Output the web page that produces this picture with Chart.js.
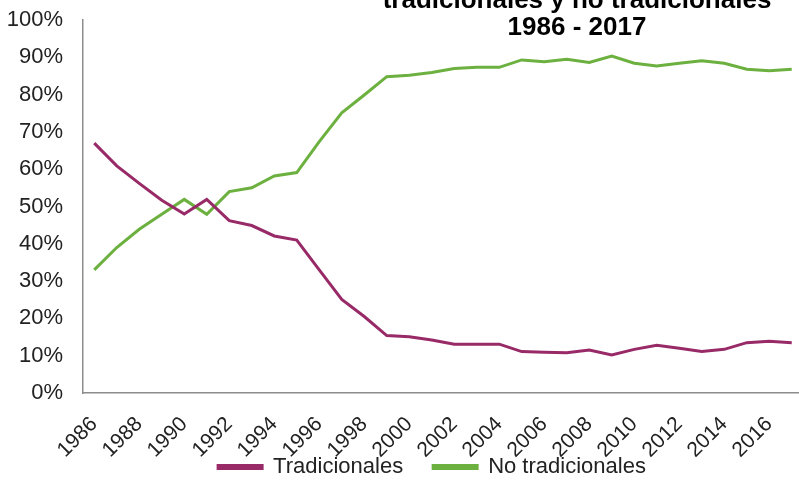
<!DOCTYPE html>
<html lang="es">
<head>
  <meta charset="UTF-8" />
  <title>Tradicionales y no tradicionales 1986 - 2017</title>
  <script src="https://cdn.jsdelivr.net/npm/chart.js"></script>
  <style>
    html, body { margin: 0; padding: 0; background: #fff; overflow: hidden; width: 799px; height: 480px; }
    #wrap { width: 803px; height: 520px; }
  </style>
</head>
<body>
  <div id="wrap"><canvas id="chart"></canvas></div>
  <script>
    const years = ['1986','1987','1988','1989','1990','1991','1992','1993','1994','1995','1996','1997','1998','1999','2000','2001',
                   '2002','2003','2004','2005','2006','2007','2008','2009','2010','2011','2012','2013','2014','2015','2016','2017'];
    const tradicionales = [67, 60.9, 56.2, 51.7, 48, 51.9, 46.2, 44.9, 42.1, 41, 33, 25.1, 20.5, 15.4, 15.1, 14.2,
                           13.1, 13.1, 13.1, 11.1, 10.9, 10.8, 11.5, 10.2, 11.7, 12.8, 12.0, 11.1, 11.7, 13.5, 13.9, 13.5];
    const noTradicionales = [33, 39, 43.9, 47.9, 51.9, 47.9, 54, 55, 58.2, 59.1, 67.4, 75.1, 79.9, 84.8, 85.2, 85.9,
                             87.0, 87.3, 87.3, 89.3, 88.8, 89.5, 88.6, 90.3, 88.4, 87.7, 88.4, 89.1, 88.4, 86.8, 86.4, 86.8];
    const titleLines = ['tradicionales y no tradicionales', '1986 - 2017'];

    // titulo dibujado encima del area (queda cortado arriba como en el original)
    const titlePlugin = {
      id: 'titleText',
      afterLayout(chart) {
        // subir la leyenda para que quede pegada a las etiquetas del eje x
        const lg = chart.legend;
        if (lg) {
          lg.top -= 32;
          lg.bottom -= 32;
          lg.left -= 11;
          lg.right -= 11;
        }
      },
      afterDraw(chart) {
        const c = chart.ctx;
        c.save();
        c.font = 'bold 26px "Liberation Sans", Arial, sans-serif';
        c.fillStyle = '#000';
        c.textAlign = 'center';
        c.textBaseline = 'alphabetic';
        c.fillText(titleLines[0], 577, 8);
        c.fillText(titleLines[1], 577, 35);
        c.restore();
      }
    };

    new Chart(document.getElementById('chart'), {
      type: 'line',
      data: {
        labels: years,
        datasets: [
          { label: 'Tradicionales', data: tradicionales, borderColor: '#982A68', backgroundColor: '#982A68',
            borderWidth: 3, pointRadius: 0, tension: 0 },
          { label: 'No tradicionales', data: noTradicionales, borderColor: '#6CB13F', backgroundColor: '#6CB13F',
            borderWidth: 3, pointRadius: 0, tension: 0 }
        ]
      },
      options: {
        responsive: true,
        maintainAspectRatio: false,
        animation: false,
        layout: { padding: { left: 0, top: 20, right: 0, bottom: 0 } },
        plugins: {
          title: { display: false },
          tooltip: { enabled: false },
          legend: {
            position: 'bottom',
            fullSize: false,
            labels: {
              color: '#222',
              font: { family: '"Liberation Sans", Arial', size: 22 },
              boxWidth: 44,
              boxHeight: 3,
              padding: 30
            }
          }
        },
        scales: {
          x: {
            offset: true,
            grid: { display: false, drawTicks: false },
            border: { display: true, color: '#8c8c8c', width: 1.5 },
            ticks: {
              autoSkip: false,
              minRotation: 45,
              maxRotation: 45,
              padding: 19,
              color: '#222',
              font: { family: '"Liberation Sans", Arial', size: 21 },
              callback: function(v, i) { return i % 2 === 0 ? years[i] : ''; }
            },
            afterFit: function(scale) {
              scale.paddingLeft = 0;
              scale.paddingRight = 0;
              scale.height = 65;
            }
          },
          y: {
            min: 0,
            max: 100,
            grid: { display: false, drawTicks: false },
            border: { display: true, color: '#8c8c8c', width: 1.5 },
            ticks: {
              autoSkip: false,
              stepSize: 10,
              padding: 20,
              color: '#222',
              font: { family: '"Liberation Sans", Arial', size: 22 },
              callback: function(v) { return v + '%'; }
            },
            afterFit: function(scale) {
              scale.paddingTop = 0;
              scale.paddingBottom = 0;
              scale.width = 83;
            }
          }
        }
      },
      plugins: [titlePlugin]
    });
  </script>
</body>
</html>
